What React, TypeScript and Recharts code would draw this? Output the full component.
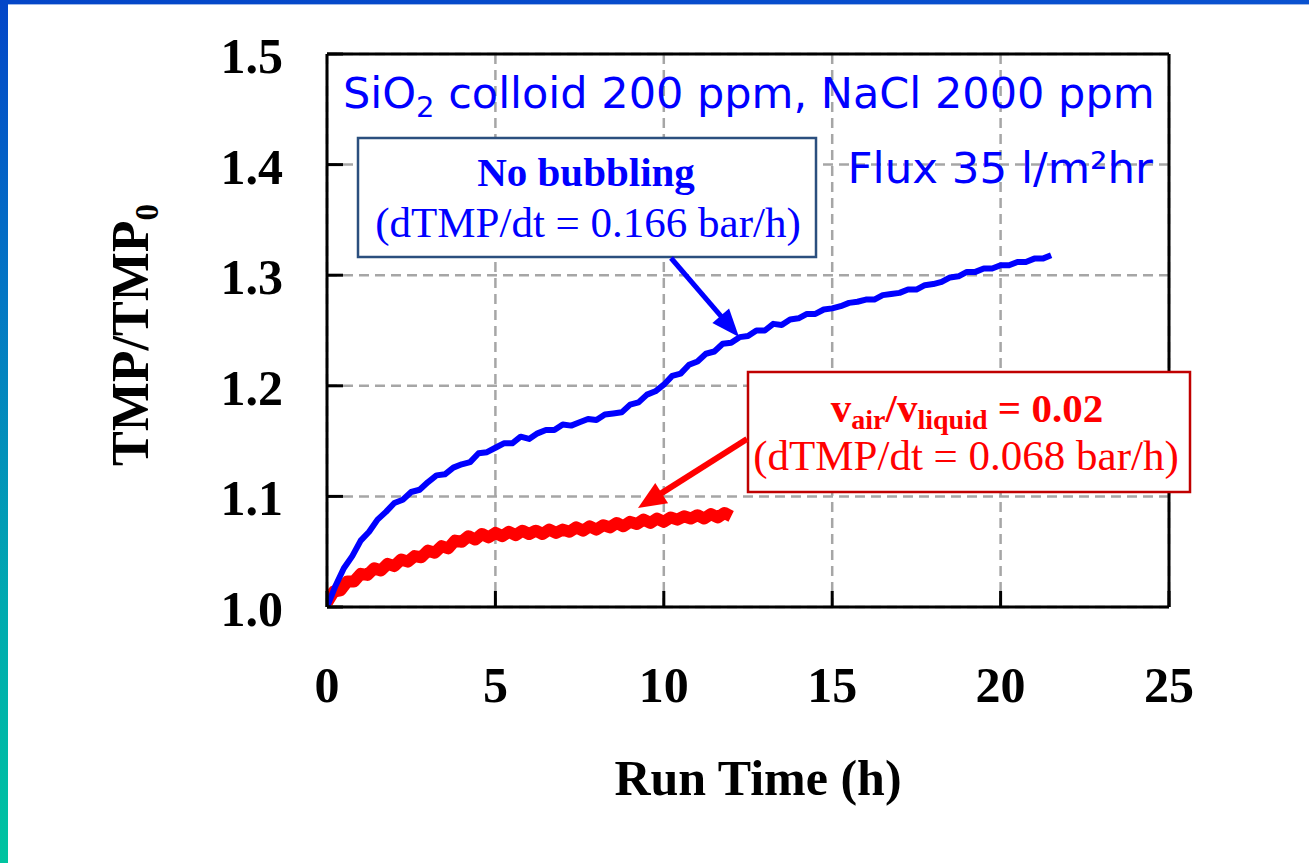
import { LineChart, Line, XAxis, YAxis, CartesianGrid, ReferenceLine } from 'recharts'

const SERIF = '"Liberation Serif", "Times New Roman", Times, serif'
const SANS = '"DejaVu Sans", Verdana, sans-serif'
const BLUE = '#0000ff'
const RED = '#ff0000'

const X_TICKS = [0, 5, 10, 15, 20, 25]
const Y_TICKS = [1.0, 1.1, 1.2, 1.3, 1.4, 1.5]

// no bubbling run (blue)
const BLUE_HOURS = [
  0, 0.25, 0.5, 0.75, 1, 1.25, 1.5, 1.75, 2, 2.25, 2.5, 2.75, 3, 3.25, 3.5, 3.75,
  4, 4.25, 4.5, 4.75, 5, 5.25, 5.5, 5.75, 6, 6.25, 6.5, 6.75, 7, 7.25, 7.5, 7.75,
  8, 8.25, 8.5, 8.75, 9, 9.25, 9.5, 9.75, 10, 10.25, 10.5, 10.75, 11, 11.25, 11.5, 11.75,
  12, 12.25, 12.5, 12.75, 13, 13.25, 13.5, 13.75, 14, 14.25, 14.5, 14.75, 15, 15.25, 15.5, 15.75,
  16, 16.25, 16.5, 16.75, 17, 17.25, 17.5, 17.75, 18, 18.25, 18.5, 18.75, 19, 19.25, 19.5, 19.75,
  20, 20.25, 20.5, 20.75, 21, 21.25, 21.5,
]
const BLUE_TMP = [
  1.000, 1.019, 1.035, 1.046, 1.060, 1.068, 1.079, 1.086, 1.094, 1.097, 1.104, 1.106, 1.113, 1.119, 1.120, 1.126,
  1.129, 1.131, 1.139, 1.140, 1.144, 1.148, 1.148, 1.154, 1.152, 1.157, 1.160, 1.160, 1.165, 1.164, 1.167, 1.170,
  1.169, 1.174, 1.175, 1.176, 1.183, 1.185, 1.192, 1.195, 1.201, 1.209, 1.211, 1.219, 1.222, 1.229, 1.231, 1.238,
  1.239, 1.244, 1.245, 1.250, 1.250, 1.256, 1.255, 1.260, 1.261, 1.265, 1.265, 1.269, 1.270, 1.272, 1.275, 1.276,
  1.278, 1.278, 1.282, 1.283, 1.284, 1.287, 1.287, 1.291, 1.292, 1.294, 1.298, 1.299, 1.303, 1.303, 1.306, 1.306,
  1.309, 1.309, 1.312, 1.312, 1.315, 1.315, 1.318,
]

// air bubbling run (red)
const RED_HOURS = [
  0, 0.2, 0.4, 0.6, 0.8, 1, 1.2, 1.4, 1.6, 1.8, 2, 2.2, 2.4, 2.6, 2.8, 3, 3.2, 3.4, 3.6, 3.8,
  4, 4.2, 4.4, 4.6, 4.8, 5, 5.2, 5.4, 5.6, 5.8, 6, 6.2, 6.4, 6.6, 6.8, 7, 7.2, 7.4, 7.6, 7.8,
  8, 8.2, 8.4, 8.6, 8.8, 9, 9.2, 9.4, 9.6, 9.8, 10, 10.2, 10.4, 10.6, 10.8, 11, 11.2, 11.4, 11.6, 11.8, 12,
]
const RED_TMP = [
  1.004, 1.014, 1.015, 1.023, 1.023, 1.030, 1.029, 1.035, 1.033, 1.039, 1.037, 1.043, 1.041, 1.046, 1.045, 1.051, 1.049, 1.055, 1.053, 1.060,
  1.059, 1.064, 1.061, 1.066, 1.063, 1.067, 1.064, 1.068, 1.065, 1.069, 1.066, 1.069, 1.066, 1.070, 1.067, 1.070, 1.068, 1.072, 1.069, 1.073,
  1.070, 1.074, 1.072, 1.076, 1.073, 1.077, 1.075, 1.079, 1.076, 1.080, 1.077, 1.081, 1.079, 1.082, 1.080, 1.083, 1.080, 1.084, 1.081, 1.085, 1.082,
]

const blueData = BLUE_HOURS.map((t, i) => ({ t, v: BLUE_TMP[i] }))
const redData = RED_HOURS.map((t, i) => ({ t, v: RED_TMP[i] }))

function XTick({ x, y, payload }: any) {
  return (
    <g>
      <line x1={x} y1={y} x2={x} y2={y - 16} stroke="#000" strokeWidth={3} />
      <text x={x} y={y + 95} textAnchor="middle" fontFamily={SERIF} fontWeight="bold" fontSize={50} fill="#000">
        {payload.value}
      </text>
    </g>
  )
}

function YTick({ x, y, payload }: any) {
  return (
    <g>
      <line x1={x} y1={y} x2={x + 16} y2={y} stroke="#000" strokeWidth={3} />
      <text x={x - 44} y={y + 19} textAnchor="end" fontFamily={SERIF} fontWeight="bold" fontSize={50} fill="#000">
        {Number(payload.value).toFixed(1)}
      </text>
    </g>
  )
}

function Arrow({ x1, y1, x2, y2, color, w, head, hw }: any) {
  const dx = x2 - x1, dy = y2 - y1
  const len = Math.hypot(dx, dy)
  const ux = dx / len, uy = dy / len
  const bx = x2 - ux * head, by = y2 - uy * head
  const px = -uy * hw, py = ux * hw
  return (
    <g>
      <line x1={x1} y1={y1} x2={bx + ux * 2} y2={by + uy * 2} stroke={color} strokeWidth={w} />
      <polygon points={`${x2},${y2} ${bx + px},${by + py} ${bx - px},${by - py}`} fill={color} />
    </g>
  )
}

export default function App() {
  return (
    <div style={{ position: 'absolute', left: 0, top: 0, width: 1309, height: 863, background: '#fff', overflow: 'hidden' }}>
      {/* slide frame */}
      <div style={{ position: 'absolute', left: 0, top: 0, width: 1309, height: 4, background: 'linear-gradient(90deg, #0446c8, #0a52d0)' }} />
      <div style={{ position: 'absolute', left: 0, top: 4, width: 1309, height: 1, background: '#9fb8e8' }} />
      <div style={{ position: 'absolute', left: 0, top: 0, width: 8, height: 863, background: 'linear-gradient(180deg, #0446c8 0%, #0478c4 35%, #00aab0 70%, #00c4a0 100%)' }} />

      <div style={{ position: 'absolute', left: 0, top: 0 }}>
        <LineChart width={1309} height={863} margin={{ top: 54, right: 140, left: 207, bottom: 136 }}>
          <CartesianGrid stroke="#a6a6a6" strokeWidth={2.5} strokeDasharray="10 6" />
          <XAxis
            dataKey="t" type="number" domain={[0, 25]} ticks={X_TICKS} height={120}
            axisLine={{ stroke: '#000', strokeWidth: 3 }} tickLine={false} tickSize={0} tickMargin={0}
            tick={<XTick />} interval={0} allowDataOverflow
          />
          <YAxis
            type="number" domain={[1.0, 1.5]} ticks={Y_TICKS} width={120}
            axisLine={{ stroke: '#000', strokeWidth: 3 }} tickLine={false} tickSize={0} tickMargin={0}
            tick={<YTick />} interval={0} allowDataOverflow
          />
          <ReferenceLine y={1.5} stroke="#000" strokeWidth={3} />
          <ReferenceLine x={25} stroke="#000" strokeWidth={3} />
          <Line data={redData} dataKey="v" type="linear" stroke={RED} strokeWidth={12} strokeLinejoin="round" dot={false} isAnimationActive={false} />
          <Line data={blueData} dataKey="v" type="linear" stroke={BLUE} strokeWidth={6} strokeLinejoin="round" dot={false} isAnimationActive={false} />
        </LineChart>
      </div>

      <svg width={1309} height={863} style={{ position: 'absolute', left: 0, top: 0, pointerEvents: 'none' }}>
        {/* conditions */}
        <text x={343} y={108} fontFamily={SANS} fontSize={43} fill={BLUE}>
          SiO<tspan fontSize={29} dy={9}>2</tspan><tspan dy={-9}> colloid 200 ppm, NaCl 2000 ppm</tspan>
        </text>
        <text x={1153} y={183} textAnchor="end" fontFamily={SANS} fontSize={43.5} fill={BLUE}>
          Flux 35 l/m²hr
        </text>

        {/* no bubbling box */}
        <rect x={358} y={138} width={458} height={119} fill="#fff" stroke="#2b4f7e" strokeWidth={2.5} />
        <text x={586} y={186} textAnchor="middle" fontFamily={SERIF} fontWeight="bold" fontSize={41} fill={BLUE}>
          No bubbling
        </text>
        <text x={588} y={237} textAnchor="middle" fontFamily={SERIF} fontSize={43} fill={BLUE}>
          (dTMP/dt = 0.166 bar/h)
        </text>
        <Arrow x1={671} y1={258} x2={739} y2={337} color={BLUE} w={5} head={28} hw={11} />

        {/* bubbling box */}
        <rect x={748} y={372} width={442} height={120} fill="#fff" stroke="#c00000" strokeWidth={2.5} />
        <text x={967} y={422} textAnchor="middle" fontFamily={SERIF} fontWeight="bold" fontSize={41} fill={RED}>
          v<tspan fontSize={28} dy={7}>air</tspan><tspan dy={-7}>/v</tspan><tspan fontSize={28} dy={7}>liquid</tspan><tspan dy={-7}> = 0.02</tspan>
        </text>
        <text x={966} y={470} textAnchor="middle" fontFamily={SERIF} fontSize={43} fill={RED}>
          (dTMP/dt = 0.068 bar/h)
        </text>
        <Arrow x1={747} y1={439} x2={638} y2={508} color={RED} w={6} head={28} hw={12} />

        {/* axis titles */}
        <text x={758} y={795} textAnchor="middle" fontFamily={SERIF} fontWeight="bold" fontSize={50} fill="#000">
          Run Time (h)
        </text>
        <text x={148} y={335} transform="rotate(-90 148 335)" textAnchor="middle" fontFamily={SERIF} fontWeight="bold" fontSize={52} fill="#000">
          TMP/TMP<tspan fontSize={33} dy={10}>0</tspan>
        </text>
      </svg>
    </div>
  )
}
